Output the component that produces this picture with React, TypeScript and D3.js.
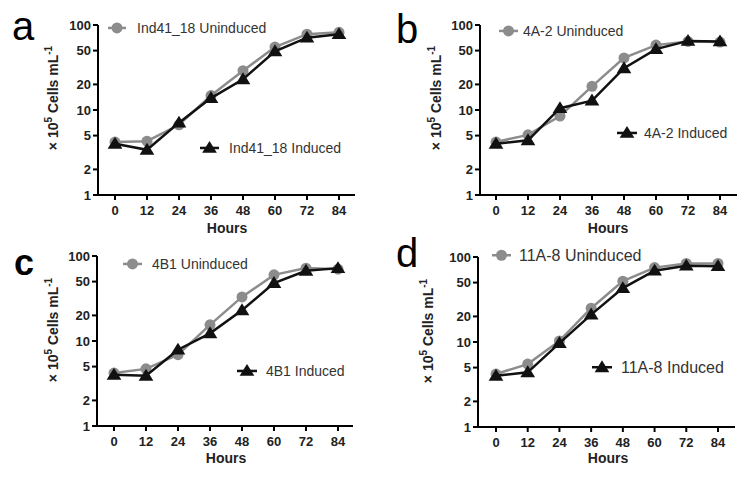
import React from "react";
import * as d3 from "d3";

const hours = [0, 12, 24, 36, 48, 60, 72, 84];
const yTicks = [1, 2, 5, 10, 20, 50, 100];
const panelLetters = ["a", "b", "c", "d"];
const strainNames = ["Ind41_18", "4A-2", "4B1", "11A-8"];

const aUninduced = [4.2, 4.3, 6.7, 14.8, 29, 55, 78, 82];
const aInduced = [4.0, 3.4, 7.1, 13.8, 23, 49, 71, 78];
const bUninduced = [4.2, 5.1, 8.5, 19, 41, 58, 64, 63];
const bInduced = [4.0, 4.4, 10.5, 12.9, 31, 52, 65, 64];
const cUninduced = [4.2, 4.7, 6.9, 15.5, 33, 60, 72, 70];
const cInduced = [4.0, 3.9, 7.9, 12.3, 23, 48, 67, 72];
const dUninduced = [4.2, 5.5, 10.3, 25, 52, 75, 84, 84];
const dInduced = [4.0, 4.4, 9.7, 21, 43, 69, 79, 78];

const uninducedSeries = [aUninduced, bUninduced, cUninduced, dUninduced];
const inducedSeries = [aInduced, bInduced, cInduced, dInduced];

// layout (pixel geometry for each panel)
const layouts = [
  { axisX: 98, yTop: 25, yBot: 195, x0: 115, x84: 339, xEnd: 355, titleX: 58, titleY: 98, hoursX: 227, hoursY: 233,
    letterX: 12, letterY: 40, letterSize: 40, letterWeight: "normal",
    legU: { x1: 108, x2: 126, tx: 137, ty: 33 }, legI: { x1: 200, x2: 219, tx: 229, ty: 153 }, legSize: 14 },
  { axisX: 480, yTop: 25, yBot: 195, x0: 496, x84: 720, xEnd: 737, titleX: 441, titleY: 98, hoursX: 608, hoursY: 233,
    letterX: 396, letterY: 43, letterSize: 40, letterWeight: "normal",
    legU: { x1: 499, x2: 518, tx: 523, ty: 36 }, legI: { x1: 617, x2: 637, tx: 644, ty: 138 }, legSize: 14 },
  { axisX: 97, yTop: 256, yBot: 426, x0: 114, x84: 338, xEnd: 353, titleX: 58, titleY: 330, hoursX: 226, hoursY: 463,
    letterX: 14, letterY: 275, letterSize: 36, letterWeight: "bold",
    legU: { x1: 123, x2: 142, tx: 152, ty: 269 }, legI: { x1: 237, x2: 257, tx: 266, ty: 376 }, legSize: 14 },
  { axisX: 478, yTop: 257, yBot: 427, x0: 496, x84: 718, xEnd: 735, titleX: 433, titleY: 331, hoursX: 608, hoursY: 463,
    letterX: 396, letterY: 267, letterSize: 40, letterWeight: "normal",
    legU: { x1: 492, x2: 511, tx: 519, ty: 261 }, legI: { x1: 592, x2: 612, tx: 621, ty: 373 }, legSize: 16 },
];

const GRAY = "#8c8c8c";
const BLACK = "#111";
const FONT = "'Liberation Sans', Arial, Helvetica, sans-serif";

const triPath = (cx: number, cy: number, s = 7) =>
  `M${cx},${cy - s}L${cx + s * 1.05},${cy + s * 0.7}L${cx - s * 1.05},${cy + s * 0.7}Z`;

function Panel({ i }: { i: number }) {
  const L = layouts[i];
  const x = d3.scaleLinear().domain([0, 84]).range([L.x0, L.x84]);
  const y = d3.scaleLog().domain([1, 100]).range([L.yBot, L.yTop]);
  const un = uninducedSeries[i];
  const ind = inducedSeries[i];
  const line = d3
    .line<number>()
    .x((_, k) => x(hours[k]))
    .y((v) => y(v));
  const legMidU = (L.legU.x1 + L.legU.x2) / 2;
  const legMidI = (L.legI.x1 + L.legI.x2) / 2;
  const legYU = L.legU.ty - L.legSize * 0.36;
  const legYI = L.legI.ty - L.legSize * 0.36;
  return (
    <g>
      <text x={L.letterX} y={L.letterY} fontSize={L.letterSize} fontWeight={L.letterWeight} fill="#000" fontFamily={FONT}>
        {panelLetters[i]}
      </text>
      {/* axes */}
      <line x1={L.axisX} x2={L.axisX} y1={L.yTop} y2={L.yBot} stroke="#000" strokeWidth={2} />
      <line x1={L.axisX - 1} x2={L.xEnd} y1={L.yBot} y2={L.yBot} stroke="#000" strokeWidth={2} />
      {yTicks.map((t) => (
        <g key={t}>
          <line x1={L.axisX - 5} x2={L.axisX} y1={y(t)} y2={y(t)} stroke="#000" strokeWidth={2} />
          <text x={L.axisX - 7} y={y(t) + 4.5} textAnchor="end" fontSize={13} fontWeight="bold" fontFamily={FONT} fill="#222">
            {t}
          </text>
        </g>
      ))}
      {hours.map((h) => (
        <g key={h}>
          <line x1={x(h)} x2={x(h)} y1={L.yBot} y2={L.yBot + 5} stroke="#000" strokeWidth={2} />
          <text x={x(h)} y={L.yBot + 20} textAnchor="middle" fontSize={13} fontWeight="bold" fontFamily={FONT} fill="#222">
            {h}
          </text>
        </g>
      ))}
      <text x={L.hoursX} y={L.hoursY} textAnchor="middle" fontSize={14} fontWeight="bold" fontFamily={FONT} fill="#222">
        Hours
      </text>
      <text
        transform={`translate(${L.titleX},${L.titleY}) rotate(-90)`}
        textAnchor="middle"
        fontSize={14}
        fontWeight="bold"
        fontFamily={FONT}
        fill="#222"
      >
        × 10
        <tspan fontSize={10} dy={-6}>5</tspan>
        <tspan dy={6}> Cells mL</tspan>
        <tspan fontSize={10} dy={-6}>-1</tspan>
      </text>
      {/* series */}
      <path d={line(un) || ""} fill="none" stroke={GRAY} strokeWidth={2.5} />
      {un.map((v, k) => (
        <circle key={k} cx={x(hours[k])} cy={y(v)} r={5.5} fill={GRAY} />
      ))}
      <path d={line(ind) || ""} fill="none" stroke={BLACK} strokeWidth={2.5} />
      {ind.map((v, k) => (
        <path key={k} d={triPath(x(hours[k]), y(v))} fill={BLACK} />
      ))}
      {/* legends */}
      <line x1={L.legU.x1} x2={L.legU.x2} y1={legYU} y2={legYU} stroke={GRAY} strokeWidth={2.5} />
      <circle cx={legMidU} cy={legYU} r={5.5} fill={GRAY} />
      <text x={L.legU.tx} y={L.legU.ty} fontSize={L.legSize} fontFamily={FONT} fill="#333">
        {strainNames[i]} Uninduced
      </text>
      <line x1={L.legI.x1} x2={L.legI.x2} y1={legYI} y2={legYI} stroke={BLACK} strokeWidth={2.5} />
      <path d={triPath(legMidI, legYI)} fill={BLACK} />
      <text x={L.legI.tx} y={L.legI.ty} fontSize={L.legSize} fontFamily={FONT} fill="#333">
        {strainNames[i]} Induced
      </text>
    </g>
  );
}

export default function App() {
  return (
    <svg width={750} height={477} style={{ position: "absolute", left: 0, top: 0, background: "#fff" }}>
      <rect width={750} height={477} fill="#fff" />
      {[0, 1, 2, 3].map((i) => (
        <Panel key={i} i={i} />
      ))}
    </svg>
  );
}
